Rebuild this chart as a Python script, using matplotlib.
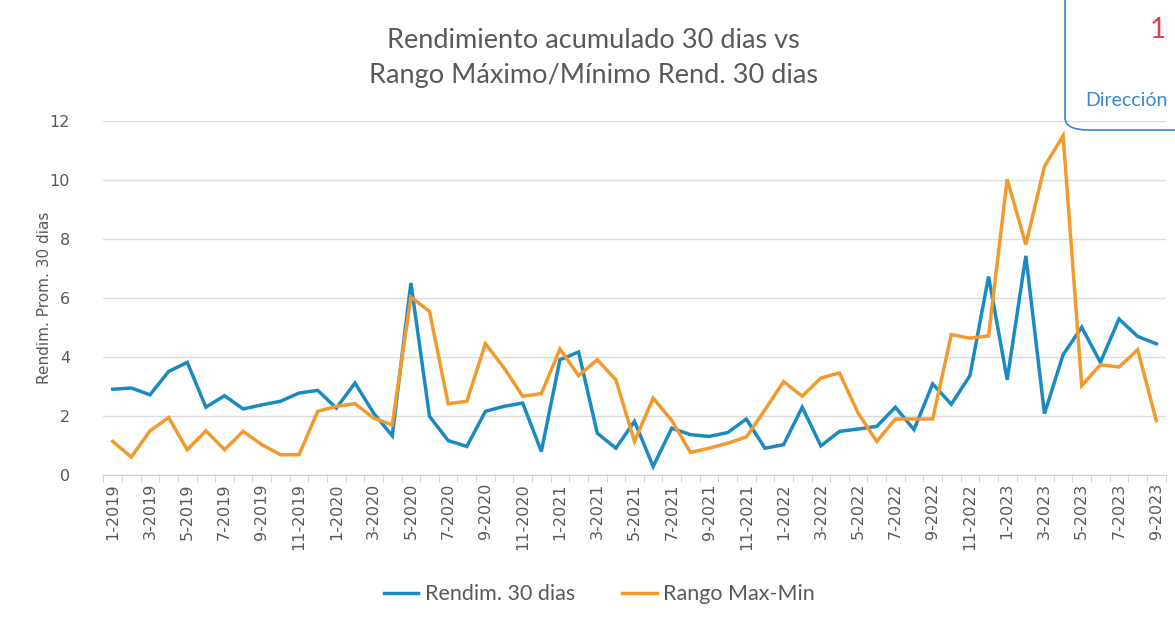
import matplotlib
matplotlib.use("Agg")
import matplotlib.pyplot as plt
from matplotlib.patches import FancyBboxPatch

months = [f"{m}-{y}" for y in range(2019, 2024) for m in range(1, 13)][:57]

rendim_30 = [2.9, 2.94, 2.71, 3.5, 3.81, 2.29, 2.68, 2.23, 2.37, 2.49, 2.77, 2.86,
             2.26, 3.11, 2.09, 1.32, 6.5, 1.98, 1.16, 0.96, 2.15, 2.32, 2.43, 0.79,
             3.9, 4.16, 1.41, 0.9, 1.81, 0.28, 1.58, 1.36, 1.3, 1.43, 1.89, 0.9,
             1.02, 2.29, 0.98, 1.47, 1.55, 1.64, 2.29, 1.53, 3.08, 2.39, 3.36, 6.72,
             3.22, 7.42, 2.07, 4.07, 5.0, 3.81, 5.28, 4.69, 4.44]

rango_max_min = [1.13, 0.6, 1.49, 1.94, 0.85, 1.49, 0.85, 1.47, 1.02, 0.68, 0.68, 2.15,
                 2.32, 2.41, 1.92, 1.69, 6.02, 5.54, 2.41, 2.49, 4.44, 3.62, 2.66, 2.75,
                 4.26, 3.36, 3.9, 3.22, 1.13, 2.6, 1.84, 0.76, 0.9, 1.07, 1.28, 2.2,
                 3.16, 2.66, 3.28, 3.45, 2.09, 1.13, 1.89, 1.89, 1.89, 4.75, 4.63, 4.71,
                 10.02, 7.8, 10.45, 11.49, 3.02, 3.73, 3.65, 4.24, 1.84]

y_ticks = [0, 2, 4, 6, 8, 10, 12]

blue = "#1a8bc2"
orange = "#f39a2e"
gray = "#595959"

fig = plt.figure(figsize=(11.75, 6.19), dpi=100)
ax = fig.add_axes([0.088, 0.233, 0.904, 0.572])

x = list(range(len(months)))
ax.plot(x, rendim_30, color=blue, lw=2.5, label="Rendim. 30 dias", solid_joinstyle="miter")
ax.plot(x, rango_max_min, color=orange, lw=2.5, label="Rango Max-Min", solid_joinstyle="miter")

ax.set_xlim(-0.5, len(months) - 0.5)
ax.set_ylim(0, 12)
ax.set_yticks(y_ticks)
ax.set_yticklabels([str(v) for v in y_ticks], fontsize=11.5, color=gray)
ax.tick_params(axis="y", length=0, pad=24)
ax.grid(axis="y", color="#dcdcdc", lw=1)
ax.set_axisbelow(True)

ax.set_xticks(x[::2])
ax.set_xticklabels(months[::2], rotation=90, fontsize=11.5, color=gray)
ax.set_xticks([i - 0.5 for i in range(len(months) + 1)], minor=True)
ax.tick_params(axis="x", which="major", length=0, pad=6)
ax.tick_params(axis="x", which="minor", length=5, color="#d0d0d0")

for s in ["top", "right", "left"]:
    ax.spines[s].set_visible(False)
ax.spines["bottom"].set_color("#d0d0d0")

ax.set_ylabel("Rendim. Prom. 30 dias", fontsize=11, color=gray, labelpad=-2)

fig.text(0.505, 0.935, "Rendimiento acumulado 30 dias vs", ha="center", va="center",
         fontsize=19.5, color=gray, family="Lato")
fig.text(0.505, 0.878, "Rango Máximo/Mínimo Rend. 30 dias", ha="center", va="center",
         fontsize=19.5, color=gray, family="Lato")

leg = fig.legend(loc="center", bbox_to_anchor=(0.51, 0.04), ncol=2, frameon=False,
                 handlelength=1.6, columnspacing=2.2, handletextpad=0.3,
                 prop={"family": "Lato", "size": 15.5})
for t in leg.get_texts():
    t.set_color(gray)

# decorative corner box from the scanned page
box = FancyBboxPatch((1065 / 1175, 1 - 130 / 619), 0.2, 0.3,
                     boxstyle="round,pad=0,rounding_size=0.02",
                     transform=fig.transFigure, fill=False, ec="#3a86d6", lw=1.2,
                     clip_on=False)
fig.add_artist(box)
fig.text(1150 / 1175, 1 - 30 / 619, "1", color="#e0404a", fontsize=20, ha="left",
         va="center", family="Lato")
fig.text(1085 / 1175, 1 - 100 / 619, "Dirección", color="#3a86d6", fontsize=14,
         ha="left", va="center", family="Lato")

fig.savefig("out.png", dpi=100, facecolor="white")
